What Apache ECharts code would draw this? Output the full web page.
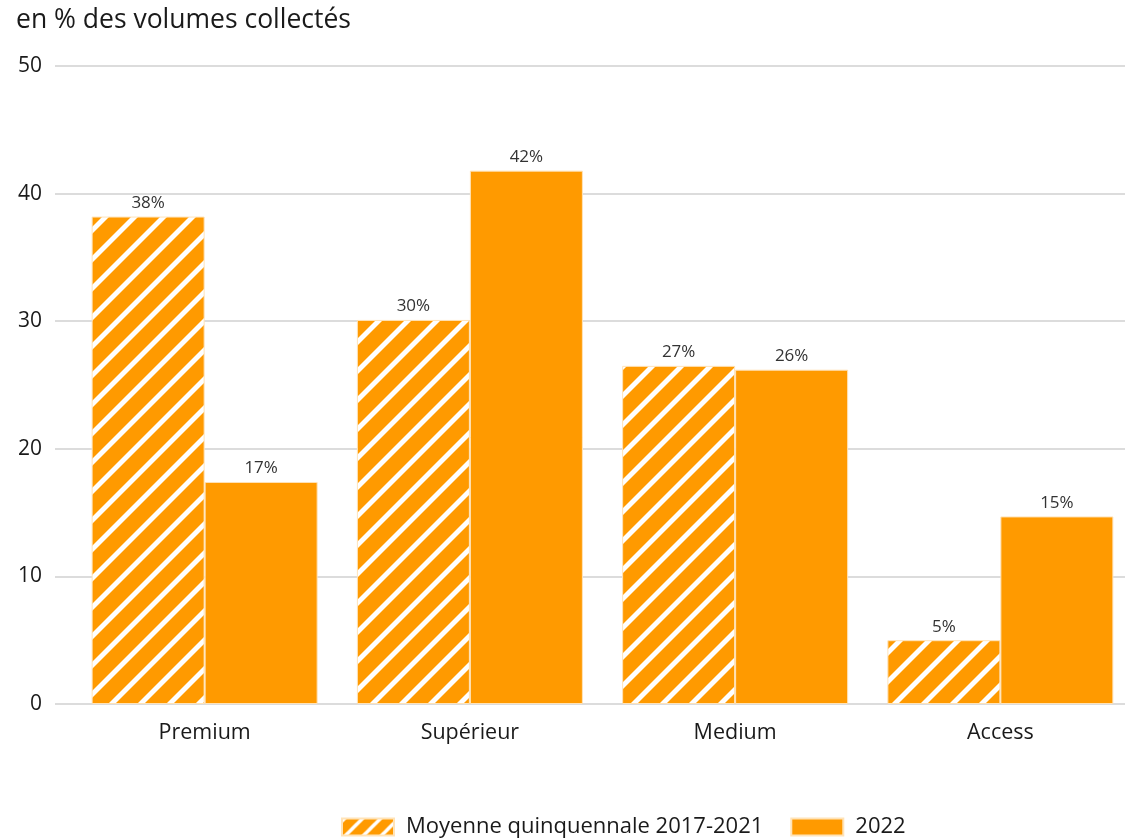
<!DOCTYPE html>
<html>
<head>
<meta charset="utf-8">
<script src="https://cdn.jsdelivr.net/npm/echarts@6/dist/echarts.min.js"></script>
<style>
  html, body { margin: 0; padding: 0; background: #fff; overflow: hidden; }
  #chart { width: 1133px; height: 840px; }
</style>
</head>
<body>
<div id="chart"></div>
<script>
const categories = ['Premium', 'Supérieur', 'Medium', 'Access'];
const moyenne = [38.2, 30.1, 26.5, 5.0];
const annee2022 = [17.4, 41.8, 26.2, 14.7];
const seriesNames = ['Moyenne quinquennale 2017-2021', '2022'];
const yTicks = [0, 10, 20, 30, 40, 50];

const ORANGE = '#ff9a00';
const FONT = '"Open Sans", "Noto Sans", sans-serif';
const INK = '#1a1a1a';

// diagonal white stripes on orange for the five-year average
function stripes(period, band) {
  const c = document.createElement('canvas');
  c.width = period; c.height = period;
  const g = c.getContext('2d');
  g.fillStyle = ORANGE;
  g.fillRect(0, 0, period, period);
  g.fillStyle = '#fff';
  for (let k = 0; k <= 2; k++) {
    const c0 = k * period;
    g.beginPath();
    g.moveTo(c0, 0);
    g.lineTo(c0 + band, 0);
    g.lineTo(c0 + band - period, period);
    g.lineTo(c0 - period, period);
    g.closePath();
    g.fill();
  }
  return c;
}
const hatch = { image: stripes(29, 7), repeat: 'repeat' };
const hatchSmall = { image: stripes(18, 5), repeat: 'repeat' };

const pct = p => Math.round(p.value) + '%';
const valueLabel = {
  show: true, position: 'top', distance: 5, formatter: pct,
  fontFamily: FONT, fontSize: 17, color: '#333'
};

const chart = echarts.init(document.getElementById('chart'));
chart.setOption({
  animation: false,
  textStyle: { fontFamily: FONT },
  title: {
    text: 'en % des volumes collectés',
    left: 11, top: 2,
    textStyle: { fontFamily: FONT, fontSize: 26.5, fontWeight: 'normal', color: INK }
  },
  legend: {
    bottom: -3,
    left: 336,
    icon: 'rect',
    itemWidth: 52, itemHeight: 17, itemGap: 27,
    textStyle: { fontFamily: FONT, fontSize: 22, color: INK, padding: [0, 0, 0, 7] },
    data: [
      { name: seriesNames[0], itemStyle: { color: hatchSmall } },
      { name: seriesNames[1] }
    ]
  },
  grid: [
    { left: 55, right: 8, top: 66, bottom: 136 },
    { left: 72, right: 0, top: 66, bottom: 136 }
  ],
  xAxis: [
    { gridIndex: 0, type: 'category', data: categories, show: false },
    {
      gridIndex: 1, type: 'category', data: categories,
      axisLine: { show: false },
      axisTick: { show: false },
      axisLabel: { fontFamily: FONT, fontSize: 21.5, color: INK, margin: 18 }
    }
  ],
  yAxis: [
    {
      gridIndex: 0, type: 'value', min: yTicks[0], max: yTicks[yTicks.length - 1], interval: 10,
      axisLine: { show: false }, axisTick: { show: false },
      axisLabel: { fontFamily: FONT, fontSize: 21, color: INK, margin: 13 },
      splitLine: { lineStyle: { color: '#dcdcdc', width: 2 } }
    },
    {
      gridIndex: 1, type: 'value', min: yTicks[0], max: yTicks[yTicks.length - 1], interval: 10,
      show: false, splitLine: { show: false }
    }
  ],
  series: [
    {
      name: seriesNames[0], type: 'bar', xAxisIndex: 1, yAxisIndex: 1,
      data: moyenne, barWidth: 113, barGap: '0%',
      itemStyle: { color: hatch, borderColor: '#ffe3b8', borderWidth: 1 },
      label: valueLabel
    },
    {
      name: seriesNames[1], type: 'bar', xAxisIndex: 1, yAxisIndex: 1,
      data: annee2022, barWidth: 113, barGap: '0%',
      itemStyle: { color: ORANGE, borderColor: '#ffe3b8', borderWidth: 1 },
      label: valueLabel
    }
  ]
});
</script>
</body>
</html>
